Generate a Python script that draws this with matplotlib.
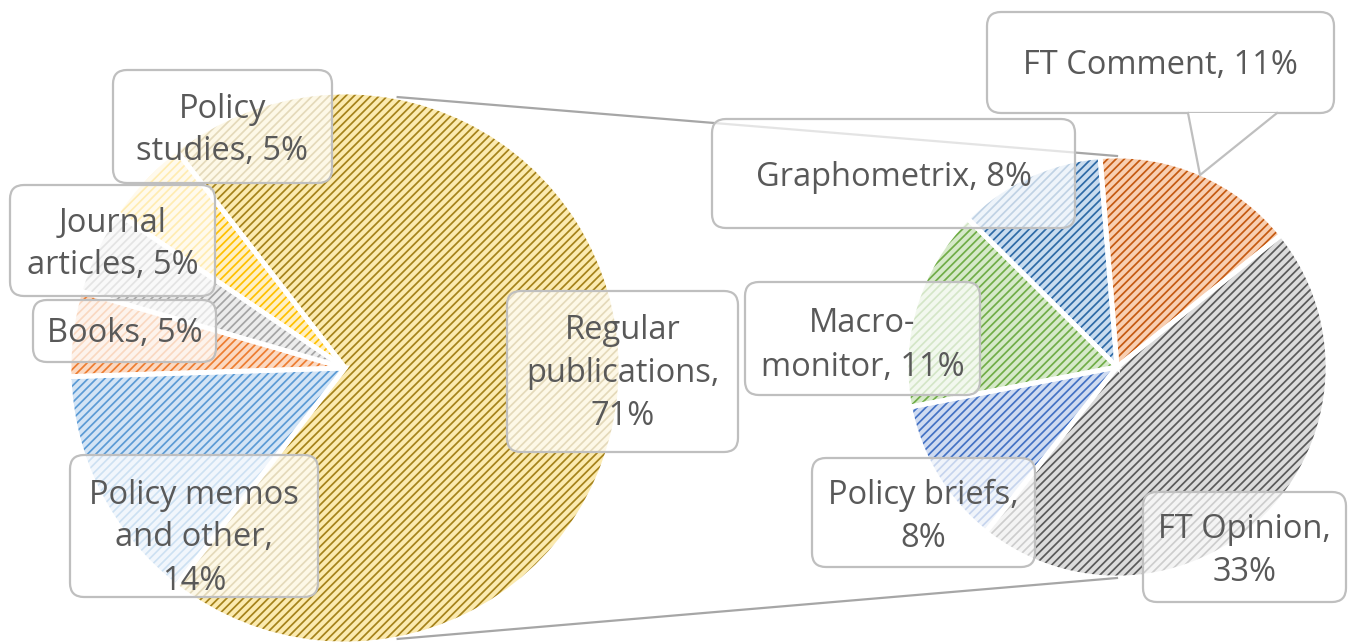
import numpy as np
import matplotlib
matplotlib.use("Agg")
import matplotlib.pyplot as plt
from matplotlib.patches import FancyBboxPatch, Polygon

plt.rcParams['font.family'] = ['Open Sans', 'DejaVu Sans']
plt.rcParams['hatch.linewidth'] = 1.25

# data (percent of all publications)
main_names = ["Regular publications", "Policy studies", "Journal articles", "Books",
              "Policy memos and other"]
main_values = [71, 5, 5, 5, 14]
sub_names = ["FT Comment", "FT Opinion", "Policy briefs", "Macro-monitor", "Graphometrix"]
sub_values = [11, 33, 8, 11, 8]

# styling
W, H = 1349, 643
main_bg = ["#fbeab0", "#fff0c4", "#ececec", "#fbd9c2", "#d3e4f5"]
main_hatch = ["#a5821a", "#ffc000", "#a5a5a5", "#ed7d31", "#5b9bd5"]
sub_bg = ["#f8cfb2", "#dcdcdc", "#cfdbf1", "#d6e9c9", "#c9dcef"]
sub_hatch = ["#c55a11", "#5a5a5a", "#4472c4", "#70ad47", "#2e6aa6"]

main_text = ["Regular\npublications,\n71%", "Policy\nstudies, 5%", "Journal\narticles, 5%",
             "Books, 5%", "Policy memos\nand other,\n14%"]
sub_text = ["FT Comment, 11%", "FT Opinion,\n33%", "Policy briefs,\n8%",
            "Macro-\nmonitor, 11%", "Graphometrix, 8%"]
# label boxes in pixels: left, top, right, bottom; text shift down in pixels
main_boxes = [(507, 291, 738, 452), (113, 70, 332, 183), (10, 185, 215, 296),
              (33, 300, 216, 362), (70, 455, 318, 597)]
main_dy = [2, 4, 4, 3, 12]
sub_boxes = [(987, 12, 1334, 113), (1143, 492, 1346, 602), (812, 458, 1035, 567),
             (745, 282, 980, 395), (712, 119, 1075, 228)]
sub_dy = [3, 4, 4, 7, 4]

c1, r1 = (345, H - 368), 276
c2, r2 = (1117, H - 367), 211

fig = plt.figure(figsize=(W / 100, H / 100), dpi=100)
ax = fig.add_axes([0, 0, 1, 1])


def draw_pie(values, center, radius, start, ccw, bg, hc):
    wedges, _ = ax.pie(values, center=center, radius=radius, startangle=start,
                       counterclock=ccw, colors=bg, frame=True)
    for w, c in zip(wedges, hc):
        w.set_hatch('////')
        w.set_edgecolor(c)
        w.set_linewidth(0)
    # white separators on top
    ax.pie(values, center=center, radius=radius, startangle=start, counterclock=ccw,
           colors=['none'] * len(values), frame=True,
           wedgeprops=dict(edgecolor='white', linewidth=3.5))


half = main_values[0] / 100 * 360 / 2
draw_pie(main_values, c1, r1, -half, True, main_bg, main_hatch)
draw_pie(sub_values, c2, r2, 94.6, False, sub_bg, sub_hatch)
ax.set_xlim(0, W)
ax.set_ylim(0, H)
ax.set_aspect('equal')
ax.axis('off')

# connector lines
for s in (1, -1):
    a = np.deg2rad(79 * s)
    x0 = c1[0] + r1 * np.cos(a)
    y0 = c1[1] + r1 * np.sin(a)
    ax.plot([x0, c2[0]], [y0, c2[1] + s * r2], color="#a6a6a6", lw=1.6, zorder=1)


def label(text, box, dy, callout=None):
    l, t, r, b = box
    pad = 14
    p = FancyBboxPatch((l + pad, H - b + pad), r - l - 2 * pad, b - t - 2 * pad,
                       boxstyle=f"round,pad={pad}", facecolor=(1, 1, 1, 0.7),
                       edgecolor="#bfbfbf", linewidth=1.6, zorder=5)
    ax.add_patch(p)
    if callout:
        (bx0, bx1, tx, ty) = callout
        ax.add_patch(Polygon([(bx0, H - b), (bx1, H - b), (tx, H - ty)], closed=True,
                             facecolor='white', edgecolor='none', zorder=5.5))
        ax.plot([bx0, tx, bx1], [H - b, H - ty, H - b], color="#bfbfbf", lw=1.6,
                zorder=6, solid_joinstyle='miter')
    ax.text((l + r) / 2, H - (t + b) / 2 - dy, text, ha='center', va='center',
            fontsize=23.5, color="#595959", linespacing=1.4, zorder=7)


for txt, box, dy in zip(main_text, main_boxes, main_dy):
    label(txt, box, dy)
for i, (txt, box, dy) in enumerate(zip(sub_text, sub_boxes, sub_dy)):
    label(txt, box, dy, callout=(1188, 1277, 1200, 175) if i == 0 else None)

fig.savefig("out.png", dpi=100)
